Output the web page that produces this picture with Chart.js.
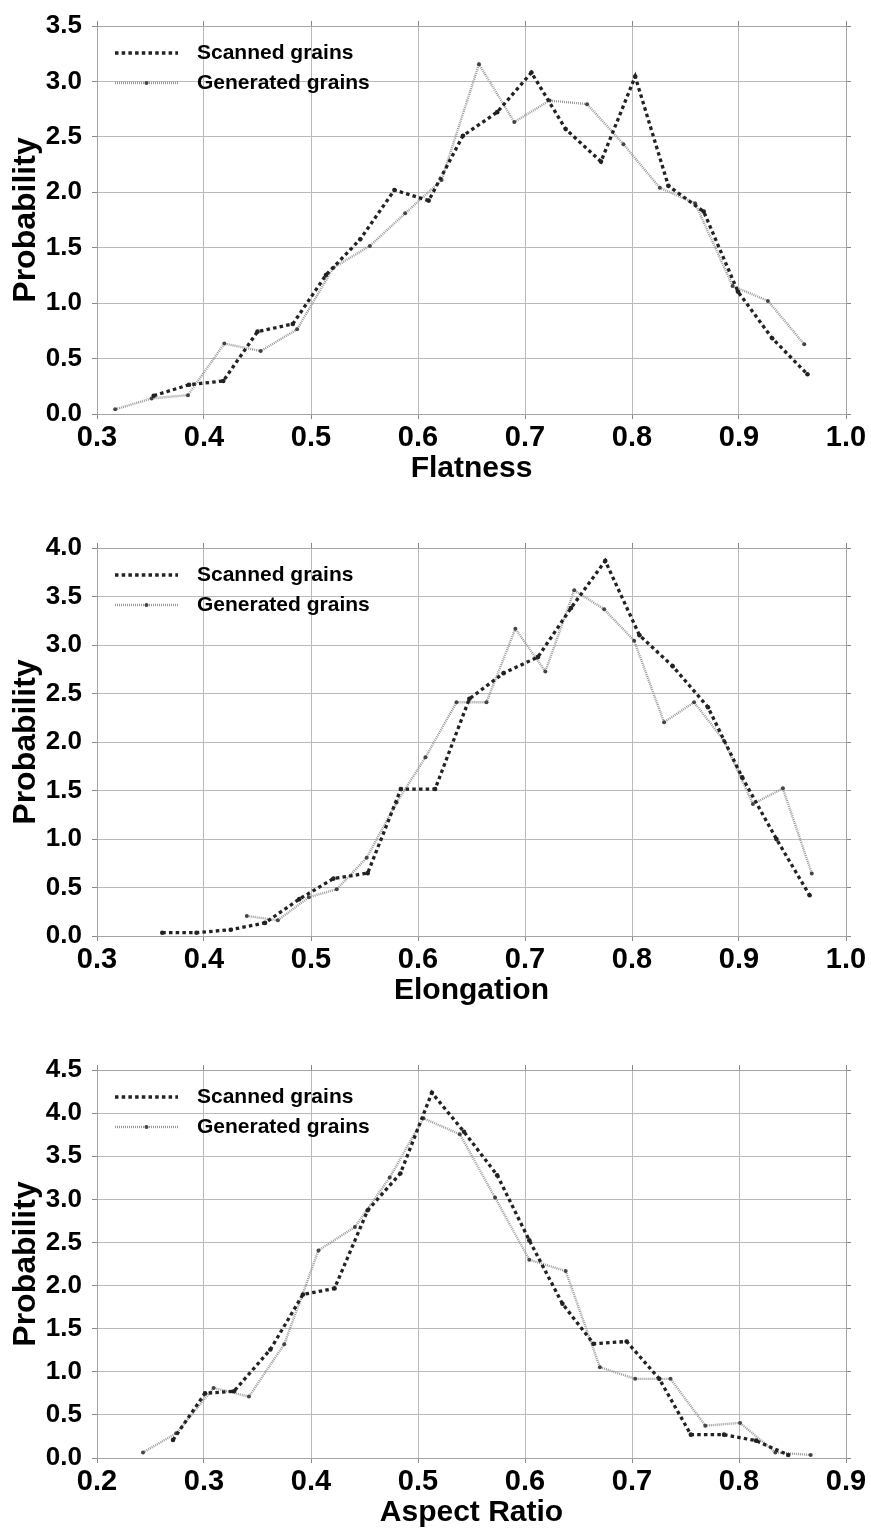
<!DOCTYPE html>
<html><head><meta charset="utf-8">
<script src="https://cdn.jsdelivr.net/npm/chart.js@4.4.1/dist/chart.umd.min.js"></script>
<style>
html,body{margin:0;padding:0;background:#fff;width:871px;height:1530px;overflow:hidden;}
.panel{position:absolute;left:0;width:871px;height:522px;}
</style></head><body>
<div class="panel" style="top:0"><canvas id="c1" width="871" height="522"></canvas></div>
<div class="panel" style="top:522px"><canvas id="c2" width="871" height="522"></canvas></div>
<div class="panel" style="top:1044px"><canvas id="c3" width="871" height="522"></canvas></div>
<script>
// ---- Data ----
const seriesLabels = ['Scanned grains', 'Generated grains'];
const axisTitles = ['Flatness', 'Elongation', 'Aspect Ratio'];
const yAxisTitle = 'Probability';

// Flatness
const flatScannedX = [0.353,0.386,0.418,0.450,0.483,0.514,0.546,0.578,0.610,0.642,0.674,0.706,0.738,0.771,0.803,0.834,0.867,0.899,0.931,0.964];
const flatScannedY = [0.165,0.264,0.298,0.743,0.812,1.254,1.576,2.02,1.925,2.51,2.723,3.08,2.57,2.277,3.044,2.058,1.826,1.104,0.683,0.358];
const flatGeneratedX = [0.317,0.351,0.385,0.419,0.453,0.487,0.521,0.555,0.588,0.622,0.657,0.690,0.723,0.758,0.792,0.826,0.859,0.894,0.927,0.961];
const flatGeneratedY = [0.042,0.14,0.17,0.635,0.568,0.764,1.32,1.516,1.81,2.11,3.156,2.633,2.828,2.795,2.434,2.04,1.90,1.155,1.02,0.629];

// Elongation
const elongScannedX = [0.361,0.393,0.425,0.457,0.489,0.521,0.553,0.584,0.616,0.648,0.680,0.712,0.743,0.775,0.807,0.838,0.871,0.903,0.935,0.966];
const elongScannedY = [0.034,0.034,0.065,0.135,0.38,0.592,0.648,1.515,1.515,2.445,2.71,2.875,3.381,3.867,3.10,2.782,2.359,1.635,0.999,0.42];
const elongGeneratedX = [0.440,0.469,0.498,0.524,0.552,0.580,0.607,0.636,0.664,0.691,0.719,0.746,0.774,0.802,0.830,0.858,0.886,0.913,0.941,0.968];
const elongGeneratedY = [0.207,0.162,0.40,0.482,0.806,1.377,1.842,2.41,2.41,3.168,2.727,3.564,3.368,3.044,2.204,2.41,2.014,1.36,1.522,0.644];

// Aspect ratio
const aspectScannedX = [0.271,0.301,0.328,0.362,0.3925,0.422,0.453,0.4835,0.513,0.543,0.574,0.604,0.635,0.664,0.695,0.7255,0.755,0.786,0.816,0.846];
const aspectScannedY = [0.209,0.751,0.774,1.258,1.897,1.967,2.873,3.30,4.236,3.783,3.28,2.525,1.789,1.325,1.351,0.918,0.271,0.271,0.201,0.035];
const aspectGeneratedX = [0.243,0.274,0.309,0.342,0.375,0.407,0.441,0.4735,0.505,0.539,0.572,0.604,0.638,0.670,0.703,0.736,0.7685,0.801,0.834,0.867];
const aspectGeneratedY = [0.065,0.286,0.813,0.712,1.32,2.408,2.679,3.253,3.939,3.756,3.021,2.30,2.168,1.053,0.918,0.918,0.375,0.407,0.065,0.035];

// Axis ranges / ticks
const flatXRange = [0.3, 1.0];
const elongXRange = [0.3, 1.0];
const aspectXRange = [0.2, 0.9];
const flatYMax = 3.5;
const elongYMax = 4.0;
const aspectYMax = 4.5;
const xTickStep = 0.1;
const yTickStep = 0.5;

// ---- Styling ----
const FONT = '"Liberation Sans", Arial, Helvetica, sans-serif';
const GRID = '#bababa';
const FRAME = '#a4a4a4';
const TICKC = '#888888';

const insideLegend = {
  id: 'insideLegend',
  afterDatasetsDraw(chart) {
    const {ctx, chartArea: a} = chart;
    const ds = chart.data.datasets;
    const y1 = a.top + 27, y2 = a.top + 57;
    const x0 = a.left + 18, x1 = a.left + 81, tx = a.left + 100;
    ctx.save();
    ctx.strokeStyle = ds[0].borderColor; ctx.lineWidth = ds[0].borderWidth;
    ctx.setLineDash(ds[0].borderDash);
    ctx.beginPath(); ctx.moveTo(x0, y1); ctx.lineTo(x1, y1); ctx.stroke();
    ctx.strokeStyle = ds[1].borderColor; ctx.lineWidth = ds[1].borderWidth;
    ctx.setLineDash(ds[1].borderDash);
    ctx.beginPath(); ctx.moveTo(x0, y2); ctx.lineTo(x1, y2); ctx.stroke();
    ctx.setLineDash([]);
    ctx.fillStyle = ds[1].pointBackgroundColor;
    ctx.beginPath(); ctx.arc((x0 + x1) / 2, y2, 2, 0, Math.PI * 2); ctx.fill();
    ctx.fillStyle = '#000';
    ctx.font = 'bold 21px ' + FONT;
    ctx.textBaseline = 'middle';
    ctx.textAlign = 'left';
    ctx.fillText(ds[0].label, tx, y1);
    ctx.fillText(ds[1].label, tx, y2);
    ctx.restore();
  }
};

function toPoints(xs, ys) { return xs.map((x, i) => ({x: x, y: ys[i]})); }

function makeChart(id, xTitle, xRange, yMax, sX, sY, gX, gY) {
  const xCommon = {type: 'linear', min: xRange[0], max: xRange[1]};
  const yCommon = {type: 'linear', min: 0, max: yMax};
  new Chart(document.getElementById(id), {
    type: 'line',
    data: {
      datasets: [
        {label: seriesLabels[0], data: toPoints(sX, sY), borderColor: '#222222', borderWidth: 3.3,
         borderDash: [3.5, 3.2], pointRadius: 2.3, pointBackgroundColor: '#222222', pointBorderWidth: 0,
         tension: 0, fill: false, xAxisID: 'x', yAxisID: 'y'},
        {label: seriesLabels[1], data: toPoints(gX, gY), borderColor: '#9a9a9a', borderWidth: 2.4,
         borderDash: [1, 1], pointRadius: 2, pointBackgroundColor: '#444444', pointBorderWidth: 0,
         tension: 0, fill: false, xAxisID: 'x', yAxisID: 'y'}
      ]
    },
    options: {
      responsive: false, animation: false, devicePixelRatio: 1,
      layout: {padding: 0},
      plugins: {legend: {display: false}, tooltip: {enabled: false}},
      scales: {
        x: Object.assign({}, xCommon, {
          position: 'bottom',
          afterFit: s => { s.height = 108; },
          grid: {color: GRID, lineWidth: 1, tickLength: 5, tickColor: TICKC, drawTicks: true},
          border: {display: true, color: FRAME},
          ticks: {stepSize: xTickStep, padding: 2, color: '#000', font: {family: FONT, size: 29, weight: 'bold'},
                  maxRotation: 0, autoSkip: false, callback: v => v.toFixed(1)},
          title: {display: true, text: xTitle, color: '#000', font: {family: FONT, size: 30, weight: 'bold'},
                  padding: {top: 0, bottom: 35}}
        }),
        y: Object.assign({}, yCommon, {
          position: 'left',
          afterFit: s => { s.width = 97; },
          grid: {color: GRID, lineWidth: 1, tickLength: 5, tickColor: TICKC},
          border: {display: true, color: FRAME},
          ticks: {stepSize: yTickStep, padding: 10, color: '#000', font: {family: FONT, size: 26, weight: 'bold'},
                  callback: v => v.toFixed(1)},
          title: {display: true, text: yAxisTitle, color: '#000', font: {family: FONT, size: 32, weight: 'bold'},
                  padding: {top: 7, bottom: 0}}
        }),
        xTop: Object.assign({}, xCommon, {
          position: 'top',
          afterFit: s => { s.height = 26; },
          grid: {drawOnChartArea: false, tickLength: 5, tickColor: TICKC},
          border: {display: true, color: FRAME},
          ticks: {display: false, stepSize: xTickStep}
        }),
        yRight: Object.assign({}, yCommon, {
          position: 'right',
          afterFit: s => { s.width = 25; },
          grid: {drawOnChartArea: false, tickLength: 5, tickColor: TICKC},
          border: {display: true, color: FRAME},
          ticks: {display: false, stepSize: yTickStep}
        })
      }
    },
    plugins: [insideLegend]
  });
}

makeChart('c1', axisTitles[0], flatXRange, flatYMax, flatScannedX, flatScannedY, flatGeneratedX, flatGeneratedY);
makeChart('c2', axisTitles[1], elongXRange, elongYMax, elongScannedX, elongScannedY, elongGeneratedX, elongGeneratedY);
makeChart('c3', axisTitles[2], aspectXRange, aspectYMax, aspectScannedX, aspectScannedY, aspectGeneratedX, aspectGeneratedY);
</script>
</body></html>
